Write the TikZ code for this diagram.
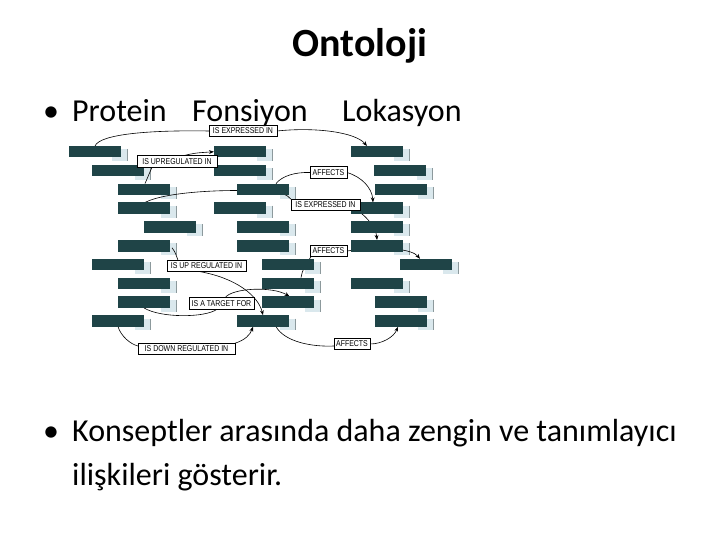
\documentclass[tikz,border=0pt]{standalone}
\usepackage{fontspec}
\setmainfont{Carlito}
\newfontfamily\lblfont[FakeStretch=0.82]{Liberation Sans}
\usetikzlibrary{calc,arrows.meta,backgrounds}
\definecolor{barc}{HTML}{1F4447}
\definecolor{shadc}{HTML}{DAE8ED}
\definecolor{shedge}{HTML}{8C999C}
\tikzset{
  bar/.style={fill=barc, minimum width=52pt, minimum height=11.5pt, inner sep=0pt, outer sep=0pt},
  lbl/.style={draw=black, fill=white, line width=0.6pt, inner sep=0pt, outer sep=0pt, minimum height=11.5pt,
              font=\lblfont\fontsize{8.5}{9}\selectfont},
  conn/.style={line width=0.6pt, draw=black},
  arr/.style={conn, -{Stealth[length=5pt,width=3.8pt]}},
  bigtext/.style={font=\fontsize{32}{38}\selectfont, inner sep=0pt, anchor=base west},
}
\begin{document}
\begin{tikzpicture}[x=1pt,y=-1pt]
\useasboundingbox (0,0) rectangle (720,540);

% bars
\foreach \n/\x/\y in {A/95/151.75, B/118/170.55, C/144/189.35, D/144/208.15, E/170/226.95,
                      F/144/245.75, G/118/264.55, H/144/283.35, I/144/302.15, J/118/320.95,
                      K/240/151.75, L/240/170.55, M/263/189.35, N/240/208.15, O/263/226.95,
                      P/263/245.75, Q/288/264.55, R/288/283.35, S/288/302.15, T/263/320.95,
                      U/377/151.75, V/400/170.55, W/401/189.35, X/377/208.15, Y/377/226.95,
                      Z1/377/245.75, Z2/426/264.55, Z3/377/283.35, Z4/401/302.15, Z5/401/320.95}
  \node[bar] (\n) at (\x,\y) {};

% page background and shadows behind bars
\begin{scope}[on background layer]
\fill[white] (0,0) rectangle (720,540);
\foreach \n in {A,B,C,D,E,F,G,H,I,J,K,L,M,N,O,P,Q,R,S,T,U,V,W,X,Y,Z1,Z2,Z3,Z4,Z5}{
  \fill[shadc] ($(\n.north east)+(-9.5,3.3)$) rectangle ($(\n.south east)+(6.7,3.7)$);
  \draw[shedge, line width=0.7pt] ($(\n.north east)+(6.7,3.3)$) -- ($(\n.south east)+(6.7,3.7)$);
}
\end{scope}

% labels
\node[lbl, minimum width=68pt] (l1) at (243,131) {IS EXPRESSED IN};
\node[lbl, minimum width=80pt] (l2) at (177,161.5) {IS UPREGULATED IN};
\node[lbl, minimum width=37pt] (l3) at (328.5,172.5) {AFFECTS};
\node[lbl, minimum width=69pt] (l4) at (325.5,205) {IS EXPRESSED IN};
\node[lbl, minimum width=37pt] (l5) at (328.5,251) {AFFECTS};
\node[lbl, minimum width=79pt] (l6) at (206.5,266) {IS UP REGULATED IN};
\node[lbl, minimum width=65pt] (l7) at (221.5,303.5) {IS A TARGET FOR};
\node[lbl, minimum width=97pt] (l8) at (186.5,349) {IS DOWN REGULATED IN};
\node[lbl, minimum width=36pt] (l9) at (352,344) {AFFECTS};

% connectors (behind bars and labels)
\begin{scope}[on background layer]
\draw[conn] (l1.west) .. controls (150,130) and (100,134) .. (A.north);
\draw[arr] (l1.east) .. controls (315,127) and (355,132) .. ($(U.north west)+(16,0)$);
\draw[arr] ($(l2.north)+(6,0)$) .. controls (195,153) .. (K.west);
\draw[conn] ($(l2.south)+(-25,0)$) -- ($(C.north)+(1,0)$);
\draw[conn] ($(D.north)+(1,0)$) .. controls (168,191) and (230,189) .. ($(M.east)+(-18,2)$)
            .. controls (280,192) and (288,195) .. (l4.north west);
\draw[conn] (l3.west) .. controls (295,172) and (282,176) .. ($(M.north east)+(-13,0)$);
\draw[arr] (l3.east) .. controls (362,177) and (372,188) .. ($(X.north west)+(22,0)$);
\draw[arr] ($(l4.south east)+(-2,0)$) .. controls (368,218) and (376,228) .. ($(Z1.north west)+(26,0)$);
\draw[arr] (l5.east) .. controls (385,246) and (412,249) .. ($(Z2.north west)+(20,0)$);
\draw[conn] ($(l5.south west)+(1,0)$) .. controls (306,264) and (302,270) .. ($(R.north)+(13,0)$);
\draw[conn] ($(F.east)+(2,2)$) .. controls (175,252) .. ($(l6.north west)+(11,0)$);
\draw[arr] ($(l6.south)+(-6,0)$) .. controls (235,278) and (258,295) .. (T.north);
\draw[conn] (I.south) .. controls (160,318) and (205,318) .. ($(l7.south east)+(-37,0)$);
\draw[arr] ($(l7.north east)+(-29,0)$) .. controls (232,288) and (272,286) .. ($(S.north)+(1.5,0)$);
\draw[conn] (J.south) .. controls (121,336) and (130,344) .. ($(l8.west)+(0,-3)$);
\draw[arr] (l8.north east) .. controls (245,340) and (250,335) .. ($(T.south west)+(16,0)$);
\draw[conn] ($(T.south east)+(-13,0)$) .. controls (285,342) and (312,347) .. ($(l9.west)+(0,2)$);
\draw[arr] (l9.east) .. controls (382,344) and (394,337) .. ($(Z5.south west)+(23,0)$);
\end{scope}

% slide text
\node[font=\fontsize{40}{46}\selectfont\bfseries, inner sep=0pt, anchor=base] (title) at (360,57) {Ontoloji};
\node[bigtext] (b1) at (43,122) {•};
\node[bigtext] (t1) at (72,122) {Protein};
\node[bigtext] (t2) at (192,122) {Fonsiyon};
\node[bigtext] (t3) at (342,122) {Lokasyon};
\node[bigtext] (b2) at (43,441.5) {•};
\node[bigtext] (t4) at (72,441.5) {Konseptler arasında daha zengin ve tanımlayıcı};
\node[bigtext] (t5) at (72,485) {ilişkileri gösterir.};
\end{tikzpicture}
\end{document}
